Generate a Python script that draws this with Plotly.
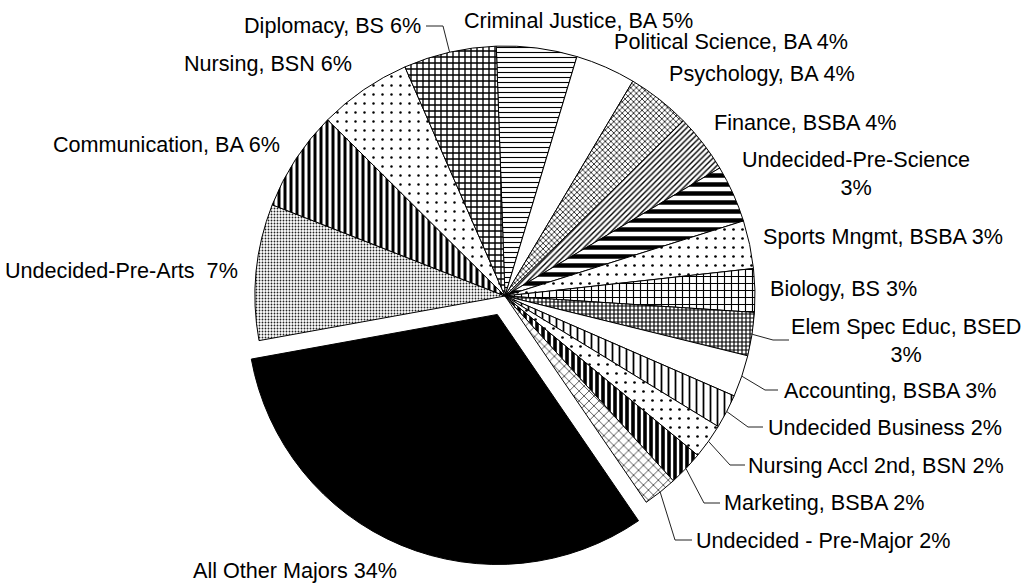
import math
import plotly.graph_objects as go

# ---- data ----
majors = [
    "Criminal Justice, BA", "Political Science, BA", "Psychology, BA", "Finance, BSBA",
    "Undecided-Pre-Science", "Sports Mngmt, BSBA", "Biology, BS", "Elem Spec Educ, BSED",
    "Accounting, BSBA", "Undecided Business", "Nursing Accl 2nd, BSN", "Marketing, BSBA",
    "Undecided - Pre-Major", "All Other Majors", "Undecided-Pre-Arts", "Communication, BA",
    "Nursing, BSN", "Diplomacy, BS",
]
shares = [5.2, 3.9, 4.1, 3.8, 3.7, 3.1, 2.8, 2.8, 2.7, 2.2, 2.25, 2.25, 2.2,
          31.7, 8.8, 6.5, 6.0, 6.0]
label_texts = [
    "Criminal Justice, BA 5%", "Political Science, BA 4%", "Psychology, BA 4%",
    "Finance, BSBA 4%", "Undecided-Pre-Science<br>3%", "Sports Mngmt, BSBA 3%",
    "Biology, BS 3%", "Elem Spec Educ, BSED<br>3%", "Accounting, BSBA 3%",
    "Undecided Business 2%", "Nursing Accl 2nd, BSN 2%", "Marketing, BSBA 2%",
    "Undecided - Pre-Major 2%", "All Other Majors 34%", "Undecided-Pre-Arts  7%",
    "Communication, BA 6%", "Nursing, BSN 6%", "Diplomacy, BS 6%",
]

# ---- styling ----
W, H = 1022, 584
PIE_CX, PIE_CY, PIE_R = 505, 296, 250
PULL = 0.08
ROTATION = -2
FONT = dict(family="Liberation Sans, Arial, sans-serif", size=21.6, color="black")

pulls = [PULL if m == "All Other Majors" else 0 for m in majors]
fill = ["white"] * len(majors)
fill[13] = "black"
shapes_p = ["-", "", "x", "/", "-", ".", "+", "+", "", "|", ".", "|", "x", "", ".", "|", ".", "+"]
sizes_p = [5, 8, 4, 4, 9, 9, 7, 4, 8, 7, 9, 6, 7, 8, 3, 6, 9, 6]
solid_p = [0.22, 0.2, 0.35, 0.35, 0.5, 0.07, 0.3, 0.5, 0.2, 0.25, 0.07, 0.6, 0.25, 0.2, 0.3, 0.5, 0.06, 0.4]
fg_p = ["black"] * len(majors)
fg_p[12] = "#555555"
fg_p[14] = "#222222"
bg_p = list(fill)

# label anchor positions (pixels): x, y, xanchor, yanchor
label_pos = [
    (463, 21, "left", "middle"), (613, 41, "left", "middle"), (668, 73, "left", "middle"),
    (713, 122, "left", "middle"), (856, 174, "center", "middle"), (762, 236, "left", "middle"),
    (769, 288, "left", "middle"), (906, 340, "center", "middle"), (783, 390, "left", "middle"),
    (767, 427, "left", "middle"), (747, 465, "left", "middle"), (723, 502, "left", "middle"),
    (695, 540, "left", "middle"), (295, 584, "center", "bottom"), (239, 270, "right", "middle"),
    (281, 144, "right", "middle"), (353, 63, "right", "middle"), (422, 26, "right", "middle"),
]
leaders = {
    17: [(443, 26), (426, 26)],
    7: [(773, 340), (789, 340)],
    8: [(765, 390), (778, 390)],
    9: [(748, 427), (763, 427)],
    10: [(730, 465), (745, 465)],
    11: [(704, 503), (720, 503)],
    12: [(675, 540), (692, 540)],
}

def px(x):
    return x / W

def py(y):
    return 1 - y / H

half = PIE_R * (1 + PULL)
dom_x = [px(PIE_CX - half), px(PIE_CX + half)]
dom_y = [py(PIE_CY + half), py(PIE_CY - half)]

fig = go.Figure(go.Pie(
    labels=majors, values=shares, sort=False, direction="clockwise",
    rotation=ROTATION, pull=pulls, textinfo="none", hoverinfo="label+percent",
    domain=dict(x=dom_x, y=dom_y),
    marker=dict(colors=fill, line=dict(color="black", width=1),
                pattern=dict(shape=shapes_p, size=sizes_p, solidity=solid_p,
                             fgcolor=fg_p, bgcolor=bg_p, fillmode="replace")),
))

annotations = []
for txt, (x, y, xa, ya) in zip(label_texts, label_pos):
    annotations.append(dict(text=txt, x=px(x), y=py(y), xref="paper", yref="paper",
                            xanchor=xa, yanchor=ya, showarrow=False, borderpad=0,
                            align="center", font=FONT))

shapes = []
total = sum(shares)
cum = 0.0
for i, v in enumerate(shares):
    mid = math.radians(ROTATION + 360 * (cum + v / 2) / total)
    cum += v
    if i not in leaders:
        continue
    sx = PIE_CX + PIE_R * math.sin(mid)
    sy = PIE_CY - PIE_R * math.cos(mid)
    pts = [(sx, sy)] + leaders[i]
    for (x0, y0), (x1, y1) in zip(pts[:-1], pts[1:]):
        shapes.append(dict(type="line", xref="paper", yref="paper",
                           x0=px(x0), y0=py(y0), x1=px(x1), y1=py(y1),
                           line=dict(color="#222222", width=1)))

fig.update_layout(
    width=W, height=H, margin=dict(l=0, r=0, t=0, b=0),
    paper_bgcolor="white", plot_bgcolor="white", showlegend=False,
    annotations=annotations, shapes=shapes, font=FONT,
)
fig.write_html("out.html", config={"displayModeBar": False},
               post_script="document.body.style.margin='0';")
